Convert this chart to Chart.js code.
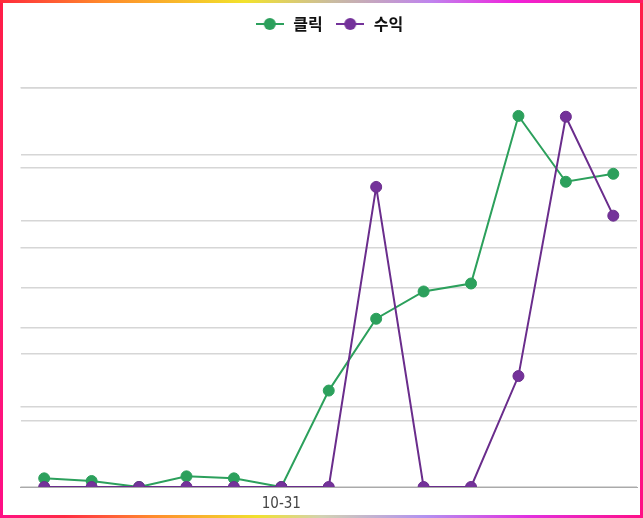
<!DOCTYPE html>
<html>
<head>
<meta charset="utf-8">
<script src="https://cdn.jsdelivr.net/npm/chart.js@4"></script>
<style>
    html, body { margin: 0; padding: 0; background: #fff; }
    .frame {
        width: 643px;
        height: 518px;
        box-sizing: border-box;
        padding: 3px;
        background:
            linear-gradient(90deg, #ff2a3c 0%, #ff8a2a 16%, #f2e22c 38%, #c9bba2 52%, #bf84ee 67%, #f022dc 80%, #ff1a62 100%) top / 100% 3px no-repeat,
            linear-gradient(90deg, #ff0e86 0%, #ff2a44 10%, #ff8c2c 24%, #f0e02e 40%, #d2d2b2 50%, #b292f0 66%, #e030e0 82%, #ff0e86 100%) bottom / 100% 3px no-repeat,
            linear-gradient(180deg, #ff1e46 0%, #ff1a70 50%, #ff0e86 100%);
    }
    .inner { width: 637px; height: 512px; background: #fff; position: relative; }
</style>
</head>
<body>
<div class="frame">
    <div class="inner">
        <canvas id="chart" width="637" height="512"></canvas>
    </div>
</div>
<script>
const dates = ['10-26', '10-27', '10-28', '10-29', '10-30', '10-31', '11-01', '11-02', '11-03', '11-04', '11-05', '11-06', '11-07'];
const clicks = [13, 9, 0, 16, 13, 0, 145, 253, 294, 306, 558, 459, 471];
const revenue = [0, 0, 0, 0, 0, 0, 0, 3760, 0, 0, 1390, 4640, 3400];
const shownLabel = '10-31';

const green = '#2ca05c';
const purple = '#6a2d8c';

// little "line with a dot" icon for the legend
function legendIcon(color) {
    const c = document.createElement('canvas');
    c.width = 28;
    c.height = 14;
    const g = c.getContext('2d');
    g.strokeStyle = color;
    g.lineWidth = 2;
    g.beginPath();
    g.moveTo(0, 7);
    g.lineTo(28, 7);
    g.stroke();
    g.fillStyle = color;
    g.beginPath();
    g.arc(14, 7, 6, 0, Math.PI * 2);
    g.fill();
    return c;
}

const legendGap = {
    id: 'legendGap',
    beforeInit(chart) {
        const fit = chart.legend.fit;
        chart.legend.fit = function () {
            fit.bind(chart.legend)();
            this.height += 46;
        };
    }
};

const ctx = document.getElementById('chart').getContext('2d');
new Chart(ctx, {
    type: 'line',
    data: {
        labels: dates,
        datasets: [{
            label: '클릭',
            data: clicks,
            yAxisID: 'y',
            order: 1,
            borderColor: green,
            backgroundColor: green,
            borderWidth: 2,
            pointRadius: 5.5,
            pointHoverRadius: 5.5,
            pointBorderWidth: 1,
            pointStyle: 'circle',
            tension: 0
        }, {
            label: '수익',
            data: revenue,
            yAxisID: 'y1',
            order: 0,
            borderColor: purple,
            backgroundColor: '#74329a',
            borderWidth: 2,
            pointRadius: 5.5,
            pointHoverRadius: 5.5,
            pointBorderWidth: 1,
            pointStyle: 'circle',
            tension: 0
        }]
    },
    options: {
        responsive: false,
        animation: false,
        layout: { autoPadding: false, padding: { left: 17.5, right: 3, top: 1, bottom: -6 } },
        plugins: {
            tooltip: { enabled: false },
            legend: {
                display: true,
                position: 'top',
                labels: {
                    usePointStyle: true,
                    pointStyleWidth: 31,
                    padding: 12,
                    color: '#111',
                    font: { family: '"Noto Sans CJK KR", "Noto Sans", sans-serif', size: 16, weight: 'bold' },
                    generateLabels(chart) {
                        return chart.data.datasets.map((ds, i) => ({
                            text: ds.label,
                            pointStyle: legendIcon(i === 0 ? green : '#74329a'),
                            fillStyle: ds.borderColor,
                            strokeStyle: ds.borderColor,
                            lineWidth: 0,
                            fontColor: '#111',
                            hidden: false,
                            datasetIndex: i
                        }));
                    }
                }
            }
        },
        scales: {
            x: {
                offset: true,
                grid: { display: false, drawTicks: false },
                border: { display: true, color: '#aaaaaa', width: 1 },
                ticks: {
                    autoSkip: false,
                    maxRotation: 0,
                    padding: 8,
                    color: '#444',
                    font: { family: '"DejaVu Sans Condensed", "Liberation Sans Narrow", "Liberation Sans", sans-serif', size: 15 },
                    callback: function (value) {
                        const label = this.getLabelForValue(value);
                        return label === shownLabel ? label : '';
                    }
                }
            },
            y: {
                position: 'left',
                min: 0,
                max: 600,
                ticks: { display: false, stepSize: 100 },
                grid: { color: '#d6d6d6', lineWidth: 1.5, drawTicks: false },
                border: { display: false }
            },
            y1: {
                position: 'right',
                min: 0,
                max: 5000,
                ticks: { display: false, stepSize: 1000 },
                grid: { color: '#d6d6d6', lineWidth: 1.5, drawTicks: false },
                border: { display: false }
            }
        }
    },
    plugins: [legendGap]
});
</script>
</body>
</html>
